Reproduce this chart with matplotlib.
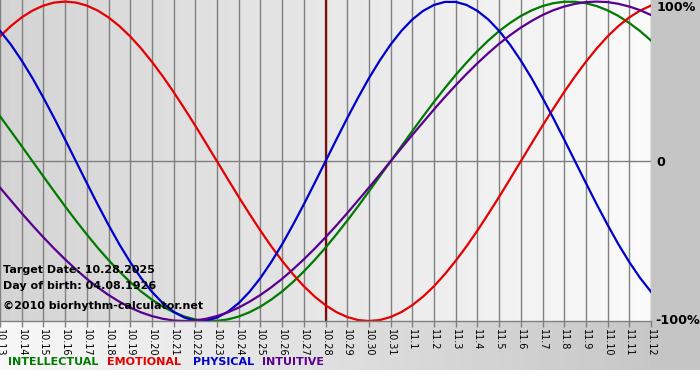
#!/usr/bin/env python3

import numpy as np
import matplotlib
matplotlib.use("Agg")
import matplotlib.pyplot as plt


# -------------------------------------------------------
# Data (one value every half day)
# -------------------------------------------------------

dates = [
    "10.13", "10.14", "10.15", "10.16", "10.17", "10.18", "10.19", "10.20",
    "10.21", "10.22", "10.23", "10.24", "10.25", "10.26", "10.27", "10.28",
    "10.29", "10.30", "10.31", "11.1", "11.2", "11.3", "11.4", "11.5",
    "11.6", "11.7", "11.8", "11.9", "11.10", "11.11", "11.12",
]

intellectual = [
    0.282, 0.189, 0.095, 0.000, -0.095, -0.189, -0.282, -0.372, -0.458, -0.541,
    -0.618, -0.690, -0.756, -0.815, -0.866, -0.910, -0.945, -0.972, -0.990, -0.999,
    -0.999, -0.990, -0.972, -0.945, -0.910, -0.866, -0.815, -0.756, -0.690, -0.618,
    -0.541, -0.458, -0.372, -0.282, -0.189, -0.095, 0.000, 0.095, 0.189, 0.282,
    0.372, 0.458, 0.541, 0.618, 0.690, 0.756, 0.815, 0.866, 0.910, 0.945,
    0.972, 0.990, 0.999, 0.999, 0.990, 0.972, 0.945, 0.910, 0.866, 0.815, 0.756,
]

emotional = [
    0.782, 0.847, 0.901, 0.944, 0.975, 0.994, 1.000, 0.994, 0.975, 0.944,
    0.901, 0.847, 0.782, 0.707, 0.623, 0.532, 0.434, 0.330, 0.223, 0.112,
    0.000, -0.112, -0.223, -0.330, -0.434, -0.532, -0.623, -0.707, -0.782, -0.847,
    -0.901, -0.944, -0.975, -0.994, -1.000, -0.994, -0.975, -0.944, -0.901, -0.847,
    -0.782, -0.707, -0.623, -0.532, -0.434, -0.330, -0.223, -0.112, 0.000, 0.112,
    0.223, 0.330, 0.434, 0.532, 0.623, 0.707, 0.782, 0.847, 0.901, 0.944, 0.975,
]

physical = [
    0.817, 0.731, 0.631, 0.520, 0.398, 0.270, 0.136, 0.000, -0.136, -0.270,
    -0.398, -0.520, -0.631, -0.731, -0.817, -0.888, -0.942, -0.979, -0.998, -0.998,
    -0.979, -0.942, -0.888, -0.817, -0.731, -0.631, -0.520, -0.398, -0.270, -0.136,
    0.000, 0.136, 0.270, 0.398, 0.520, 0.631, 0.731, 0.817, 0.888, 0.942,
    0.979, 0.998, 0.998, 0.979, 0.942, 0.888, 0.817, 0.731, 0.631, 0.520,
    0.398, 0.270, 0.136, 0.000, -0.136, -0.270, -0.398, -0.520, -0.631, -0.731, -0.817,
]

intuitive = [
    -0.165, -0.245, -0.325, -0.402, -0.476, -0.547, -0.614, -0.677, -0.736, -0.789,
    -0.837, -0.879, -0.916, -0.946, -0.969, -0.986, -0.997, -1.000, -0.997, -0.986,
    -0.969, -0.946, -0.916, -0.879, -0.837, -0.789, -0.736, -0.677, -0.614, -0.547,
    -0.476, -0.402, -0.325, -0.245, -0.165, -0.083, 0.000, 0.083, 0.165, 0.245,
    0.325, 0.402, 0.476, 0.547, 0.614, 0.677, 0.736, 0.789, 0.837, 0.879,
    0.916, 0.946, 0.969, 0.986, 0.997, 1.000, 0.997, 0.986, 0.969, 0.946, 0.916,
]

series = [
    ("INTELLECTUAL", intellectual, "#007a00"),
    ("EMOTIONAL", emotional, "#e60000"),
    ("PHYSICAL", physical, "#0000cc"),
    ("INTUITIVE", intuitive, "#5a0090"),
]

target_date = "10.28"
target_text = "Target Date: 10.28.2025"
birth_text = "Day of birth: 04.08.1926"
copyright_text = "\u00a92010 biorhythm-calculator.net"


# -------------------------------------------------------
# Background
# -------------------------------------------------------

W, H = 700, 380
PLOT_R, PLOT_B = 651, 321

fig = plt.figure(figsize=(7, 3.8), dpi=100)
fig.patch.set_facecolor("white")

bg = np.ones((H, W))
cols = np.linspace(0.0, 1.0, PLOT_R)
bg[:PLOT_B, :PLOT_R] = 0.83 + 0.15 * cols
bg[PLOT_B:370, :PLOT_R] = 0.97 - 0.19 * cols
bg[:370, PLOT_R:] = 0.77

bax = fig.add_axes([0, 0, 1, 1], zorder=-1)
bax.imshow(bg, cmap="gray", vmin=0, vmax=1, aspect="auto",
           interpolation="bilinear")
bax.axis("off")


# -------------------------------------------------------
# Plot
# -------------------------------------------------------

ax = fig.add_axes([0, 1 - PLOT_B / H, PLOT_R / W, PLOT_B / H])
ax.set_facecolor("none")

day = np.arange(len(dates))
half_day = np.arange(len(intellectual)) / 2

for name, vals, color in series:
    ax.plot(half_day, vals, color=color, lw=1.6, solid_joinstyle="round")

ax.axvline(dates.index(target_date), color="#7a0a0a", lw=1.6, zorder=1)
ax.axhline(0, color="#808080", lw=1, zorder=0)

ax.set_xlim(0, len(dates) - 1)
ax.set_ylim(-1.0, 1.01)

ax.set_xticks(day)
ax.set_xticklabels(dates, rotation=270, fontsize=7, color="black")
ax.tick_params(axis="x", direction="out", length=4, width=1,
               color="#808080", pad=2)
ax.set_yticks([])
ax.grid(axis="x", color="#808080", lw=1)
ax.set_axisbelow(True)

for s in ["top", "left", "right"]:
    ax.spines[s].set_visible(False)
ax.spines["bottom"].set_color("#808080")
ax.spines["bottom"].set_linewidth(1)

ax.text(1.009, 0.998, "100%", transform=ax.transAxes, fontsize=9.2,
        fontweight="bold", va="top", ha="left")
ax.text(1.009, 0.495, "0", transform=ax.transAxes, fontsize=9.2,
        fontweight="bold", va="center", ha="left")
ax.text(1.006, 0.0, "-100%", transform=ax.transAxes, fontsize=9.2,
        fontweight="bold", va="center", ha="left")

# info text
fig.text(3 / W, 1 - 270 / H, target_text, fontsize=8, fontweight="bold",
         va="center")
fig.text(3 / W, 1 - 286 / H, birth_text, fontsize=8, fontweight="bold",
         va="center")
fig.text(3 / W, 1 - 306 / H, copyright_text, fontsize=8, fontweight="bold",
         va="center")

# legend row
legend_x = [8, 107, 193, 262]
for (name, vals, color), lx in zip(series, legend_x):
    fig.text(lx / W, 1 - 362 / H, name, fontsize=8, fontweight="bold",
             color=color, va="center")

fig.savefig("out.png", dpi=100)
